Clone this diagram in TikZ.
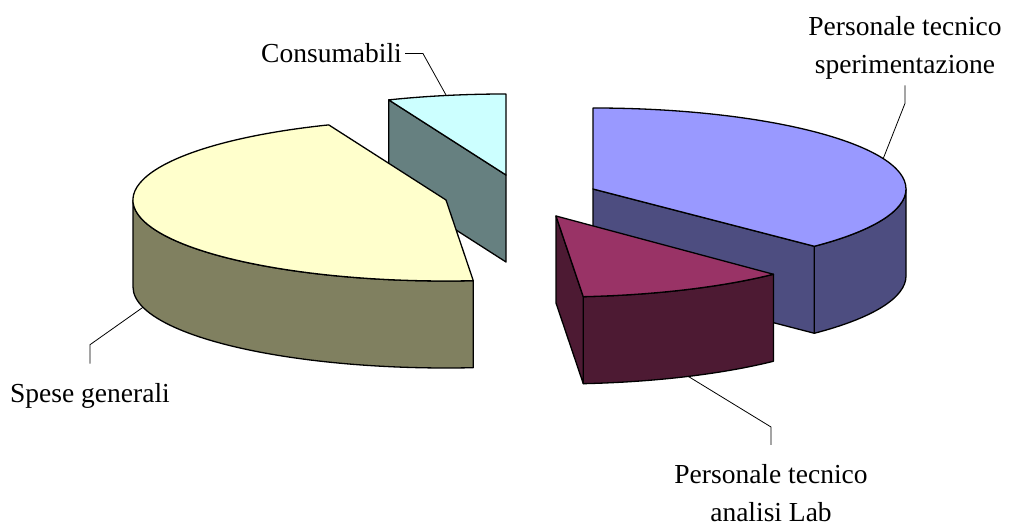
\documentclass[tikz,border=0pt]{standalone}
\usepackage{fontspec}
\setmainfont{Liberation Serif}

\definecolor{consTop}{HTML}{CCFFFF}
\definecolor{consSide}{HTML}{668080}
\definecolor{speseTop}{HTML}{FFFFCC}
\definecolor{speseSide}{HTML}{808060}
\definecolor{sperTop}{HTML}{9999FF}
\definecolor{sperSide}{HTML}{4D4D80}
\definecolor{labTop}{HTML}{993366}
\definecolor{labSide}{HTML}{4D1A33}

\begin{document}
\begin{tikzpicture}[x=1pt, y=1pt,
    fetta/.style={draw=black, line width=1.3pt, line join=round},
    etichetta/.style={font=\fontsize{27.5}{38}\selectfont, align=center, inner sep=0pt},
    guida/.style={draw=black, line width=0.8pt}]
    \useasboundingbox (0,0) rectangle (1013,529);

    % Centri delle fette (sopra e sotto)
    \coordinate (cC) at (506,354); \coordinate (cCb) at (506,267);
    \coordinate (cY) at (446,329); \coordinate (cYb) at (446,242);
    \coordinate (cB) at (593,340); \coordinate (cBb) at (593,253);
    \coordinate (cM) at (556,313); \coordinate (cMb) at (556,226);

    % Consumabili
    \filldraw[fetta, fill=consSide] (cC) -- ++(112:313 and 81) -- ++(0,-87) -- (cCb) -- cycle;
    \filldraw[fetta, fill=consTop] (cC) -- ++(90:313 and 81)
        arc[start angle=90, end angle=112, x radius=313, y radius=81] -- cycle;

    % Spese generali
    \filldraw[fetta, fill=speseSide] (cY) ++(180:313 and 81) -- ++(0,-87)
        arc[start angle=180, end angle=275, x radius=313, y radius=81] -- ++(0,87)
        arc[start angle=275, end angle=180, x radius=313, y radius=81] -- cycle;
    \filldraw[fetta, fill=speseTop] (cY) -- ++(112:313 and 81)
        arc[start angle=112, end angle=275, x radius=313, y radius=81] -- cycle;

    % Personale tecnico sperimentazione
    \filldraw[fetta, fill=sperSide] (cB) ++(-45:313 and 81) -- ++(0,-87)
        arc[start angle=-45, end angle=0, x radius=313, y radius=81] -- ++(0,87)
        arc[start angle=0, end angle=-45, x radius=313, y radius=81] -- cycle;
    \filldraw[fetta, fill=sperSide] (cB) -- ++(-45:313 and 81) -- ++(0,-87) -- (cBb) -- cycle;
    \filldraw[fetta, fill=sperTop] (cB) -- ++(90:313 and 81)
        arc[start angle=90, end angle=-45, x radius=313, y radius=81] -- cycle;

    % Personale tecnico analisi Lab
    \filldraw[fetta, fill=labSide] (cM) ++(-85:313 and 81) -- ++(0,-87)
        arc[start angle=-85, end angle=-46, x radius=313, y radius=81] -- ++(0,87)
        arc[start angle=-46, end angle=-85, x radius=313, y radius=81] -- cycle;
    \filldraw[fetta, fill=labSide] (cM) -- ++(-85:313 and 81) -- ++(0,-87) -- (cMb) -- cycle;
    \filldraw[fetta, fill=labTop] (cM) -- ++(-85:313 and 81)
        arc[start angle=-85, end angle=-46, x radius=313, y radius=81] -- cycle;

    % Punti sul bordo
    \path (cC) ++(101:313 and 81) coordinate (consEnd);
    \path (cB) ++(22:313 and 81) coordinate (sperEnd);
    \path (cYb) ++(194.5:313 and 81) coordinate (speseEnd);
    \path (cMb) ++(-65:313 and 81) coordinate (labEnd);

    % Etichette
    \node[etichetta, anchor=base east] (consLbl) at (402,466) {Consumabili};
    \node[etichetta, anchor=north] (sperLbl) at (905,513) {Personale tecnico\\sperimentazione};
    \node[etichetta, anchor=north] (labLbl) at (771,65) {Personale tecnico\\analisi Lab};
    \node[etichetta, anchor=base west] (speseLbl) at (10,126) {Spese generali};

    % Linee guida
    \draw[guida] (consLbl.east) ++(3,0) -- ++(18,0) -- (consEnd);
    \draw[guida] (sperLbl.south) ++(0,-6) -- ++(0,-18) -- (sperEnd);
    \draw[guida] (labLbl.north) ++(0,19) -- ++(0,18) -- (labEnd);
    \draw[guida] (speseLbl.north) ++(0,20) -- ++(0,19) -- (speseEnd);
\end{tikzpicture}
\end{document}
